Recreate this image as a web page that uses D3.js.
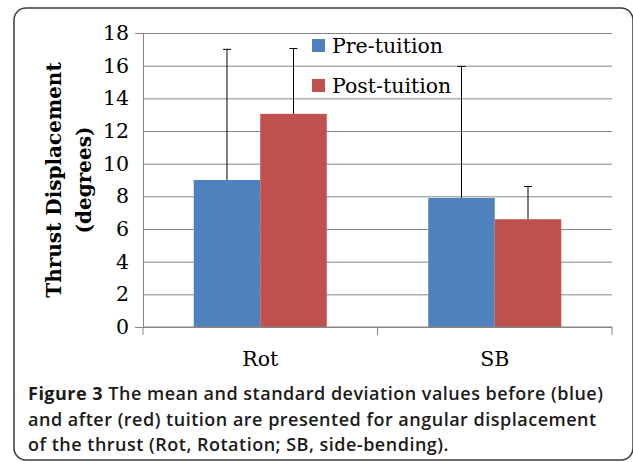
<!DOCTYPE html>
<html>
<head>
<meta charset="utf-8">
<script src="https://cdn.jsdelivr.net/npm/d3@7"></script>
<style>
  body { margin: 0; background: #fff; }
  svg { display: block; }
</style>
</head>
<body>
<div id="chart"></div>
<script>
// data
let categories = ['Rot', 'SB'];
let series = ['Pre-tuition', 'Post-tuition'];
let preMean = [9.0, 7.9];
let postMean = [13.05, 6.6];
let preSD = [8.0, 8.05];
let postSD = [4.0, 2.0];
let yTicks = [0, 2, 4, 6, 8, 10, 12, 14, 16, 18];
let caption = [
  ['Figure 3', ' The mean and standard deviation values before (blue)'],
  ['', 'and after (red) tuition are presented for angular displacement'],
  ['', 'of the thrust (Rot, Rotation; SB, side-bending).']
];

let W = 633, H = 462;
let plot = {left: 143, right: 612, top: 33, bottom: 327};
let color = d3.scaleOrdinal().domain(series).range(['#4F81BD', '#C0504D']);
let serif = 'DejaVu Serif, serif';

let svg = d3.select('#chart').append('svg')
  .attr('width', W)
  .attr('height', H);

// frame
svg.append('rect')
  .attr('x', 14).attr('y', 8)
  .attr('width', 619).attr('height', 452)
  .attr('rx', 12)
  .attr('fill', 'none')
  .attr('stroke', '#3a3a3a')
  .attr('stroke-width', 1.5);

// scales
let y = d3.scaleLinear().domain([0, 18]).range([plot.bottom, plot.top]);
let x0 = d3.scaleBand().domain(categories).range([plot.left, plot.right]);
let x1 = d3.scaleBand().domain(series).range([0, x0.bandwidth()]).paddingOuter(0.763);

// gridlines + y axis
let yAxis = d3.axisLeft(y).tickValues(yTicks).tickSize(8).tickFormat(d3.format('d'));
let gy = svg.append('g')
  .attr('transform', `translate(${plot.left},0)`)
  .call(yAxis);
gy.select('.domain').attr('stroke', '#868686');
gy.selectAll('.tick line')
  .attr('x2', plot.right - plot.left)
  .attr('stroke', '#868686');
gy.selectAll('.tick text')
  .attr('x', -14)
  .attr('font-family', serif)
  .attr('font-size', 20.5)
  .attr('fill', '#000');

// bars
let data = categories.map((c, i) => ({
  cat: c,
  vals: [
    {s: series[0], v: preMean[i], sd: preSD[i]},
    {s: series[1], v: postMean[i], sd: postSD[i]}
  ]
}));

let groups = svg.selectAll('.grp')
  .data(data)
  .enter().append('g')
    .attr('class', 'grp')
    .attr('transform', d => `translate(${x0(d.cat)},0)`);

groups.selectAll('rect')
  .data(d => d.vals)
  .enter().append('rect')
    .attr('x', d => x1(d.s))
    .attr('y', d => y(d.v))
    .attr('width', x1.bandwidth())
    .attr('height', d => y(0) - y(d.v))
    .attr('fill', d => color(d.s));

// error bars (upper only)
let err = groups.selectAll('.err')
  .data(d => d.vals)
  .enter().append('g')
    .attr('class', 'err')
    .attr('stroke', '#000')
    .attr('stroke-width', 1);
err.append('line')
  .attr('x1', d => x1(d.s) + x1.bandwidth() / 2)
  .attr('x2', d => x1(d.s) + x1.bandwidth() / 2)
  .attr('y1', d => y(d.v))
  .attr('y2', d => y(d.v + d.sd));
err.append('line')
  .attr('x1', d => x1(d.s) + x1.bandwidth() / 2 - 4)
  .attr('x2', d => x1(d.s) + x1.bandwidth() / 2 + 4)
  .attr('y1', d => y(d.v + d.sd))
  .attr('y2', d => y(d.v + d.sd));

// x axis
let gx = svg.append('g').attr('transform', `translate(0,${plot.bottom})`);
gx.append('line')
  .attr('x1', plot.left).attr('x2', plot.right)
  .attr('stroke', '#868686');
let bounds = categories.map(c => x0(c)).concat([plot.right]);
gx.selectAll('.xt')
  .data(bounds)
  .enter().append('line')
    .attr('x1', d => d).attr('x2', d => d)
    .attr('y1', 0).attr('y2', 8)
    .attr('stroke', '#868686');
gx.selectAll('.xl')
  .data(categories)
  .enter().append('text')
    .attr('x', d => x0(d) + x0.bandwidth() / 2)
    .attr('y', 39)
    .attr('text-anchor', 'middle')
    .attr('font-family', serif)
    .attr('font-size', 20.5)
    .text(d => d);

// y axis title
let yt = svg.append('text')
  .attr('transform', 'translate(61,180) rotate(-90)')
  .attr('text-anchor', 'middle')
  .attr('font-family', serif)
  .attr('font-weight', 'bold')
  .attr('font-size', 20);
yt.append('tspan').attr('x', 0).attr('dy', 0).text('Thrust Displacement');
yt.append('tspan').attr('x', 0).attr('dy', 30).text('(degrees)');

// legend
let legend = svg.selectAll('.legend')
  .data(series)
  .enter().append('g')
    .attr('class', 'legend')
    .attr('transform', (d, i) => `translate(312,${39 + i * 40})`);
legend.append('rect')
  .attr('width', 13).attr('height', 13)
  .attr('fill', d => color(d));
legend.append('text')
  .attr('x', 20).attr('y', 14)
  .attr('font-family', serif)
  .attr('font-size', 20.5)
  .text(d => d);

// caption
let cap = svg.selectAll('.cap')
  .data(caption)
  .enter().append('text')
    .attr('class', 'cap')
    .attr('x', 28)
    .attr('y', (d, i) => 400 + i * 25.5)
    .attr('font-family', 'Open Sans, sans-serif')
    .attr('font-size', 18)
    .attr('font-weight', 600)
    .attr('letter-spacing', 0.5)
    .attr('fill', '#1a1a1a');
cap.append('tspan').attr('font-weight', 700).text(d => d[0]);
cap.append('tspan').text(d => d[1]);
</script>
</body>
</html>
